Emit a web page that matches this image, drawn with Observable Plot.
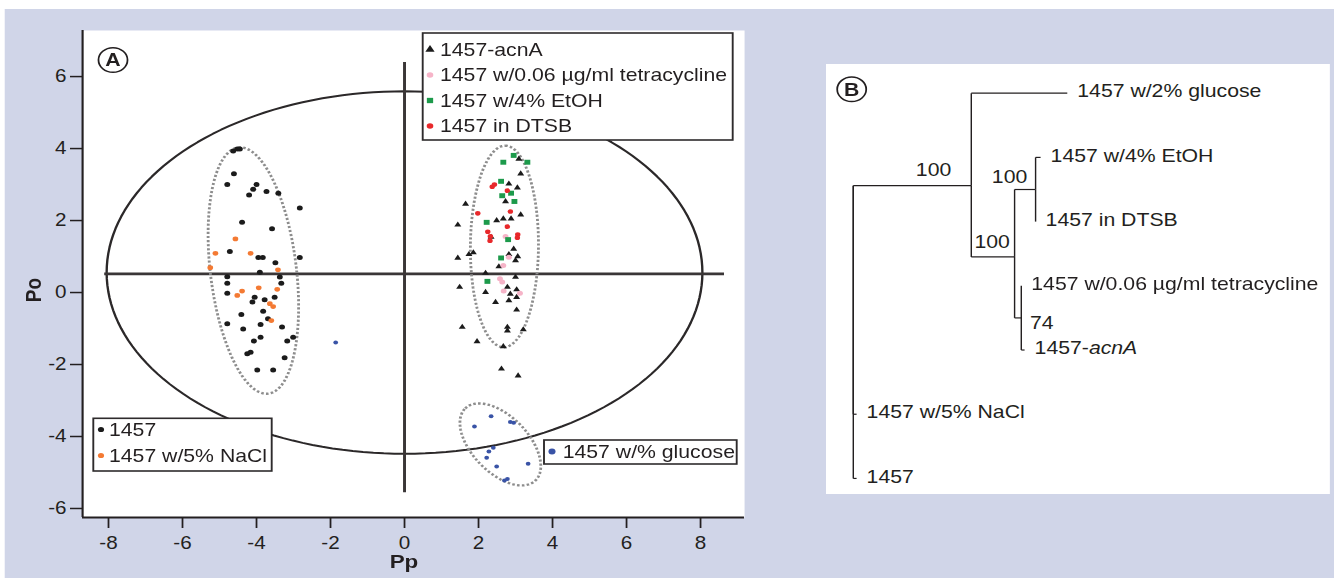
<!DOCTYPE html>
<html><head><meta charset="utf-8">
<script src="https://cdn.jsdelivr.net/npm/d3@7"></script>
<script src="https://cdn.jsdelivr.net/npm/@observablehq/plot@0.6"></script>
<style>
html,body{margin:0;padding:0;background:#fff;width:1334px;height:578px;overflow:hidden;}
#stage{position:absolute;left:0;top:0;width:1130.5px;height:578px;transform:scaleX(1.18);transform-origin:0 0;font-family:"Liberation Sans",Arial,Helvetica,sans-serif;color:#231f20;}
#bg{position:absolute;top:9px;height:569px;background:#d0d5e8;}
#pa,#pb{position:absolute;}
</style></head><body>
<div id="stage"><div id="bg"></div><div id="pa"></div><div id="pb"></div></div>
<script>
// ---------- DATA ----------
const seriesNames = ["1457","1457 w/5% NaCl","1457-acnA","1457 w/0.06 µg/ml tetracycline","1457 w/4% EtOH","1457 in DTSB","1457 w/% glucose"];
const seriesColors = ["#1b1b1b","#f47a33","#1b1b1b","#f6b4c8","#1d9a4b","#e8282b","#3953a6"];
const seriesSymbols = ["circle","circle","triangle","circle","square","circle","circle"];

const pts1457 = [[-4.63,3.93],[-4.52,3.99],[-4.45,3.99],[-4.61,3.30],[-4.79,3.00],[-4.09,2.87],[-4.00,3.00],[-3.73,2.81],[-3.41,2.76],[-4.20,2.71],[-2.83,2.35],[-4.39,1.95],[-3.58,1.77],[-4.72,1.14],[-3.95,0.97],[-3.83,0.97],[-2.83,0.97],[-3.49,0.83],[-4.79,0.44],[-3.91,0.56],[-3.37,0.43],[-4.79,0.26],[-3.33,0.26],[-4.79,-0.02],[-3.51,-0.13],[-4.05,-0.13],[-4.11,-0.26],[-3.78,-0.20],[-3.82,-0.52],[-4.41,-0.61],[-3.69,-0.73],[-4.79,-0.87],[-4.36,-1.01],[-3.89,-0.89],[-3.31,-0.96],[-4.07,-1.35],[-3.89,-1.24],[-3.17,-1.35],[-3.01,-1.24],[-4.25,-1.70],[-4.16,-1.66],[-3.24,-1.81],[-3.98,-2.15],[-3.55,-2.15]];
const ptsNaCl = [[-4.57,1.49],[-5.11,1.09],[-5.25,0.69],[-4.16,1.09],[-3.42,0.63],[-3.94,0.13],[-3.44,0.09],[-4.39,0.04],[-4.52,-0.08],[-3.64,-0.31],[-3.55,-0.39],[-3.60,-0.78]];
const ptsAcnA = [[3.09,3.71],[3.14,3.30],[2.82,3.02],[3.05,2.91],[2.73,2.53],[1.65,2.46],[1.44,1.88],[2.49,2.00],[2.67,2.05],[2.88,2.05],[3.14,2.16],[2.34,1.54],[1.44,0.96],[1.74,1.06],[1.86,1.11],[2.95,1.21],[3.06,1.00],[2.82,1.06],[3.00,0.89],[2.55,0.72],[2.19,0.54],[3.00,0.43],[1.49,0.15],[2.19,0.01],[2.78,0.15],[3.03,0.08],[2.86,-0.04],[2.46,-0.27],[2.82,-0.22],[3.03,-0.13],[3.03,-0.48],[1.56,-0.96],[2.78,-0.96],[2.78,-1.06],[3.21,-1.03],[1.96,-1.36],[2.67,-1.50],[2.62,-2.12],[3.07,-2.31]];
const ptsTetracycline = [[2.73,1.56],[2.82,0.98],[2.67,0.75],[2.58,0.38],[2.64,0.29],[2.68,0.04],[3.12,-0.02]];
const ptsEtOH = [[2.95,3.81],[3.32,3.62],[2.67,3.62],[2.61,3.09],[2.88,2.76],[2.64,2.69],[2.97,2.53],[2.22,1.95],[2.80,1.47],[2.61,0.96],[2.24,0.31]];
const ptsDTSB = [[2.37,2.94],[2.43,3.00],[2.78,2.83],[1.98,2.20],[2.86,2.25],[2.78,1.83],[2.25,1.69],[2.32,1.56],[2.31,1.44],[3.06,1.61],[3.05,1.52]];
const ptsGlucose = [[2.34,-3.44],[1.89,-3.72],[2.86,-3.60],[2.95,-3.62],[2.40,-4.31],[2.28,-4.42],[2.22,-4.59],[2.49,-4.83],[3.34,-4.76],[2.70,-5.22],[2.78,-5.18],[-1.86,-1.39]];
const seriesPoints = [pts1457, ptsNaCl, ptsAcnA, ptsTetracycline, ptsEtOH, ptsDTSB, ptsGlucose];

const xTicks = [-8,-6,-4,-2,0,2,4,6,8];
const yTicks = [-6,-4,-2,0,2,4,6];

// confidence ellipse (solid) and cross lines
const bigEllipseCenter = [0, 0.555];
const bigEllipseRadii = [8.05, 5.035];
const crossV = [0, -5.56, 6.39];   // x, y1, y2
const crossH = [0.52, -8.1, 8.65]; // y, x1, x2
// group ellipses (dotted): center, major semi-axis vector, minor semi-axis vector
const groupCenters = [[-4.085,0.61],[2.70,1.28],[2.59,-4.22]];
const groupMajor = [[-0.405,3.42],[0.02,2.80],[-0.95,1.0]];
const groupMinor = [[1.154,0.144],[0.92,0],[0.54,0.545]];

// tree (panel B)
const treeIds = ["root","n1","glu","n2","n3","etoh","dtsb","n4","tet","acn","nacl","wt"];
const treeParents = [null,"root","n1","n1","n2","n3","n3","n2","n4","n4","root","root"];
const treeLengths = [0,1.18,0.96,0.433,0.21,0.05,0,0.067,0,0.033,0.033,0.033];
const treeSlots = [1.44,1.44,0,2.55,1.5,1,2,3.5,3,4,5,6];
const treeLabels = [null,null,"1457 w/2% glucose",null,null,"1457 w/4% EtOH","1457 in DTSB",null,"1457 w/0.06 µg/ml tetracycline","1457-acnA","1457 w/5% NaCl","1457"];
const bootstrapNodes = ["n1","n2","n3","n4"];
const bootstrapValues = ["100","100","100","74"];

// ---------- LAYOUT ----------
const S = 1.18; // horizontal stretch of the original figure
const FONT = "'Liberation Sans', Arial, Helvetica, sans-serif";
const INK = "#231f20";
d3.select("#bg").style("left", (5/S)+"px").style("width", ((1334-5)/S)+"px");

// ---------- PANEL A ----------
const table = [];
seriesPoints.forEach((arr, i) => arr.forEach(([x, y]) => table.push({x, y, series: seriesNames[i]})));
const seriesR = [2.5, 2.4, 2.2, 2.5, 2.8, 2.3, 2.0];

const steps = d3.range(0, 181);
const bigOutline = steps.map(k => {
  const t = 2 * Math.PI * k / 180;
  return {x: bigEllipseCenter[0] + bigEllipseRadii[0] * Math.cos(t), y: bigEllipseCenter[1] + bigEllipseRadii[1] * Math.sin(t)};
});
const groupOutline = [];
groupCenters.forEach((c, i) => {
  steps.forEach(k => {
    const t = 2 * Math.PI * k / 180;
    groupOutline.push({id: i,
      x: c[0] + groupMajor[i][0] * Math.cos(t) + groupMinor[i][0] * Math.sin(t),
      y: c[1] + groupMajor[i][1] * Math.cos(t) + groupMinor[i][1] * Math.sin(t)});
  });
});

const xDom = [-8.70, 9.19], yDom = [-6.25, 7.28];
const plotA = Plot.plot({
  width: 760 / S, height: 578,
  marginLeft: 82 / S, marginRight: 16 / S, marginTop: 30, marginBottom: 61,
  x: {domain: xDom}, y: {domain: yDom},
  color: {domain: seriesNames, range: seriesColors},
  symbol: {domain: seriesNames, range: seriesSymbols},
  style: {background: "transparent", fontFamily: FONT, fontSize: "17px", color: INK, overflow: "visible"},
  marks: [
    Plot.frame({fill: "white"}),
    Plot.line(bigOutline, {x: "x", y: "y", stroke: "#2b2829", strokeWidth: 2}),
    Plot.ruleX([crossV], {x: d => d[0], y1: d => d[1], y2: d => d[2], stroke: "#3a3637", strokeWidth: 2.5}),
    Plot.ruleY([crossH], {y: d => d[0], x1: d => d[1], x2: d => d[2], stroke: "#3a3637", strokeWidth: 2.8}),
    Plot.line(groupOutline, {x: "x", y: "y", z: "id", stroke: "#8d8d8d", strokeWidth: 2.4, strokeLinecap: "butt", strokeLinejoin: "miter", strokeDasharray: "2.2,1.9"}),
    ...seriesNames.map((s, i) => Plot.dot(table.filter(d => d.series === s), {x: "x", y: "y", fill: "series", symbol: "series", r: seriesR[i], stroke: "none"})),
    Plot.ruleX([xDom[0]], {stroke: INK, strokeWidth: 1.8}),
    Plot.ruleY([yDom[0]], {stroke: INK, strokeWidth: 2}),
    Plot.axisX({ticks: xTicks, tickFormat: d => String(d), tickSize: 11, tickPadding: 8, fontSize: 17.5, label: null, strokeWidth: 1.5}),
    Plot.axisY({ticks: yTicks, tickFormat: d => String(d), tickSize: 10.2, tickPadding: 3.4, fontSize: 17.5, label: null, strokeWidth: 1.5})
  ]
});
document.getElementById("pa").append(plotA);

// ---------- PANEL B ----------
const idx = new Map(treeIds.map((id, i) => [id, i]));
const nodeX = [];
treeIds.forEach((id, i) => {
  const p = treeParents[i];
  nodeX[i] = p === null ? 0 : nodeX[idx.get(p)] + treeLengths[i];
});
const nodes = treeIds.map((id, i) => ({id, x: nodeX[i], y: treeSlots[i], label: treeLabels[i],
  px: treeParents[i] === null ? 0 : nodeX[idx.get(treeParents[i])],
  py: treeParents[i] === null ? treeSlots[i] : treeSlots[idx.get(treeParents[i])]}));
const edges = nodes.filter(d => d.id !== "root");
const leaves = nodes.filter(d => d.label);
const boot = bootstrapNodes.map((n, i) => ({...nodes[idx.get(n)], value: bootstrapValues[i]}));

const plotB = Plot.plot({
  width: 504 / S, height: 430,
  marginLeft: 0, marginRight: 0, marginTop: 0, marginBottom: 0,
  x: {domain: [-0.267, 4.773], axis: null},
  y: {domain: [-0.447, 6.25], reverse: true, axis: null},
  style: {background: "white", fontFamily: FONT, fontSize: "18px", color: INK, overflow: "visible"},
  marks: [
    Plot.link(edges, {x1: "px", y1: "py", x2: "px", y2: "y", stroke: INK, strokeWidth: 1.2}),
    Plot.link(edges, {x1: "px", y1: "y", x2: "x", y2: "y", stroke: INK, strokeWidth: 1.2}),
    Plot.text(leaves, {x: "x", y: "y", text: "label", textAnchor: "start", dx: 10 / S, dy: -1.5, fontSize: 18, fill: INK}),
    Plot.text(boot.filter(d => d.id === "n1"), {x: "x", y: "y", text: "value", textAnchor: "end", dx: -20 / S, dy: -15, fontSize: 18, fill: INK}),
    Plot.text(boot.filter(d => d.id === "n2"), {x: "x", y: "y", text: "value", textAnchor: "end", dx: -4.7 / S, dy: -14.5, fontSize: 18, fill: INK}),
    Plot.text(boot.filter(d => d.id === "n3"), {x: "x", y: "y", text: "value", textAnchor: "end", dx: -8.3 / S, dy: -12.3, fontSize: 18, fill: INK}),
    Plot.text(boot.filter(d => d.id === "n4"), {x: "x", y: "y", text: "value", textAnchor: "start", dx: 8.6 / S, dy: 5.6, fontSize: 18, fill: INK})
  ]
});
d3.select(plotB).selectAll("text").filter(function() { return this.textContent === "1457-acnA"; }).each(function() {
  const t = d3.select(this);
  t.text(null);
  t.append("tspan").text("1457-");
  t.append("tspan").attr("font-style", "italic").text("acnA");
});
d3.select("#pb").style("left", (826 / S) + "px").style("top", "64px");
document.getElementById("pb").append(plotB);

// ---------- OVERLAY: legends, panel letters, axis titles ----------
const ov = d3.select("#stage").append("svg")
  .attr("width", 1334 / S).attr("height", 578)
  .style("position", "absolute").style("left", 0).style("top", 0)
  .style("overflow", "visible").style("pointer-events", "none")
  .attr("font-family", FONT).attr("fill", INK);

const legendGroups = [
  {items: [2, 3, 4, 5], box: [422.7, 33, 310, 107], base: 56, gap: 25.5, mx: 430, tx: 440, r: [2.9, 2.8, 3, 2.8]},
  {items: [0, 1], box: [93.3, 418.3, 178.4, 52.7], base: 436, gap: 26, mx: 101, tx: 109, r: [2.6, 2.6]},
  {items: [6], box: [544, 440, 192.7, 24], base: 458, gap: 0, mx: 552, tx: 562.7, r: [3]}
];
const symType = {circle: d3.symbolCircle, triangle: d3.symbolTriangle, square: d3.symbolSquare};
legendGroups.forEach(g => {
  const [bx, by, bw, bh] = g.box;
  ov.append("rect").attr("x", bx / S).attr("y", by).attr("width", bw / S).attr("height", bh)
    .attr("fill", "white").attr("stroke", "#2e2b2c").attr("stroke-width", 1.6);
  g.items.forEach((si, j) => {
    const yb = g.base + j * g.gap;
    const r = g.r[j];
    ov.append("path")
      .attr("d", d3.symbol(symType[seriesSymbols[si]], Math.PI * r * r)())
      .attr("transform", `translate(${g.mx / S},${yb - 6.5})`)
      .attr("fill", seriesColors[si]);
    ov.append("text").attr("x", g.tx / S).attr("y", yb).attr("font-size", 18).text(seriesNames[si]);
  });
});

// panel letters
[["A", 113, 60], ["B", 851.7, 89.3]].forEach(([t, cx, cy]) => {
  ov.append("circle").attr("cx", cx / S).attr("cy", cy).attr("r", 12.3)
    .attr("fill", "white").attr("stroke", INK).attr("stroke-width", 1.5);
  ov.append("text").attr("x", cx / S).attr("y", cy + 6.3).attr("text-anchor", "middle")
    .attr("font-weight", "bold").attr("font-size", 18).text(t);
});

// axis titles
ov.append("text").attr("x", 404 / S).attr("y", 568).attr("text-anchor", "middle")
  .attr("font-weight", "bold").attr("font-size", 19).text("Pp");
ov.append("text").attr("transform", `translate(${41.5 / S},290) rotate(-90)`).attr("text-anchor", "middle")
  .attr("font-weight", "bold").attr("font-size", 19).text("Po");
</script>
</body></html>
